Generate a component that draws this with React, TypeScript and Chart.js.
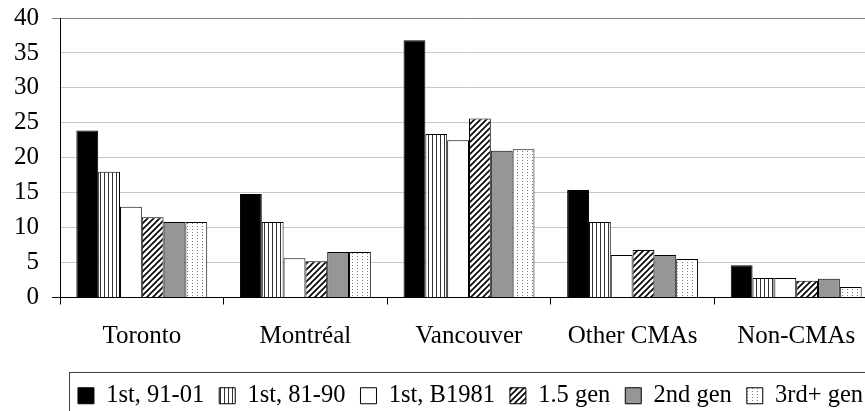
import React, { useEffect, useRef } from "react";
import { Chart, registerables } from "chart.js";

Chart.register(...registerables);

const categories = ["Toronto", "Montréal", "Vancouver", "Other CMAs", "Non-CMAs"];
const seriesLabels = ["1st, 91-01", "1st, 81-90", "1st, B1981", "1.5 gen", "2nd gen", "3rd+ gen"];
const first9101 = [23.9, 14.8, 36.8, 15.4, 4.6];
const first8190 = [18.0, 10.8, 23.4, 10.8, 2.8];
const firstB1981 = [13.0, 5.6, 22.5, 6.1, 2.8];
const gen15 = [11.5, 5.2, 25.6, 6.8, 2.4];
const gen2 = [10.8, 6.5, 21.0, 6.1, 2.7];
const gen3plus = [10.8, 6.5, 21.2, 5.5, 1.5];
const yTickMin = 0;
const yTickMax = 40;
const yTickStep = 5;

const FONT = '"Liberation Serif", "Times New Roman", serif';

function makePattern(kind: string): CanvasPattern | string {
  const c = document.createElement("canvas");
  const g = c.getContext("2d")!;
  if (kind === "vstripes") {
    c.width = 4; c.height = 4;
    g.fillStyle = "#fff"; g.fillRect(0, 0, 4, 4);
    g.fillStyle = "#333"; g.fillRect(0, 0, 1, 4);
  } else if (kind === "diag") {
    c.width = 6; c.height = 6;
    g.fillStyle = "#fff"; g.fillRect(0, 0, 6, 6);
    g.strokeStyle = "#000"; g.lineWidth = 1.6;
    g.beginPath();
    g.moveTo(-1, 7); g.lineTo(7, -1);
    g.moveTo(-4, 4); g.lineTo(4, -4);
    g.moveTo(2, 10); g.lineTo(10, 2);
    g.stroke();
  } else if (kind === "dots") {
    c.width = 5; c.height = 3;
    g.fillStyle = "#fff"; g.fillRect(0, 0, 5, 3);
    g.fillStyle = "#777"; g.fillRect(2, 1, 1, 1);
  }
  const p = g.createPattern(c, "repeat");
  return p || "#fff";
}

const legendBorder = {
  id: "legendBorder",
  afterDraw(chart: any) {
    const lg = chart.legend;
    if (!lg || !lg.legendHitBoxes || !lg.legendHitBoxes.length) return;
    const hb = lg.legendHitBoxes[0];
    const ctx = chart.ctx;
    ctx.save();
    ctx.strokeStyle = "#404040";
    ctx.lineWidth = 1;
    const x = Math.round(hb.left - 9) + 0.5;
    const y = Math.round(hb.top - 12) + 0.5;
    ctx.strokeRect(x, y, chart.width + 10 - x, chart.height + 10 - y);
    ctx.restore();
  },
};

export default function App() {
  const ref = useRef<HTMLCanvasElement | null>(null);
  useEffect(() => {
    if (!ref.current) return;
    const values = [first9101, first8190, firstB1981, gen15, gen2, gen3plus];
    const fills = ["#000", makePattern("vstripes"), "#fff", makePattern("diag"), "#969696", makePattern("dots")];
    const chart = new Chart(ref.current, {
      type: "bar",
      data: {
        labels: categories,
        datasets: values.map((v, i) => ({
          label: seriesLabels[i],
          data: v,
          backgroundColor: fills[i] as any,
          borderColor: "#000",
          borderWidth: 1,
          categoryPercentage: 0.8,
          barPercentage: 1.0,
        })),
      },
      options: {
        animation: false,
        responsive: true,
        maintainAspectRatio: false,
        layout: { padding: { left: 1, top: 18, right: 0, bottom: 0 } },
        plugins: {
          tooltip: { enabled: false },
          legend: {
            position: "bottom",
            align: "end",
            labels: {
              color: "#000",
              font: { family: FONT, size: 24.5 },
              boxWidth: 16,
              boxHeight: 16,
              padding: 15,
            },
          },
        },
        scales: {
          x: {
            grid: {
              display: true,
              offset: true,
              drawOnChartArea: false,
              drawTicks: true,
              tickLength: 7,
              tickColor: "#000",
            },
            border: { display: true, color: "#000", width: 1 },
            ticks: { color: "#000", font: { family: FONT, size: 25 }, padding: 17, maxRotation: 0 },
          },
          y: {
            min: yTickMin,
            max: yTickMax,
            afterFit: (s: any) => { s.paddingTop = 0; s.paddingBottom = 0; },
            ticks: { stepSize: yTickStep, autoSkip: false, color: "#000", font: { family: FONT, size: 25 }, padding: 13 },
            grid: {
              color: (c: any) => (c.tick && c.tick.value === yTickMax ? "#808080" : "#c8c8c8"),
              tickColor: (c: any) =>
                c.tick && c.tick.value === yTickMax ? "#808080" : c.tick && c.tick.value === 0 ? "#000" : "rgba(0,0,0,0)",
              tickLength: 8,
              lineWidth: 1,
            },
            border: { display: true, color: "#000", width: 1 },
          },
        },
      },
      plugins: [legendBorder],
    });
    return () => chart.destroy();
  }, []);
  return (
    <div style={{ position: "absolute", left: 0, top: 0, width: 865, height: 411, overflow: "hidden", background: "#fff" }}>
      <div style={{ position: "relative", width: 878, height: 418 }}>
        <canvas ref={ref} />
      </div>
    </div>
  );
}
